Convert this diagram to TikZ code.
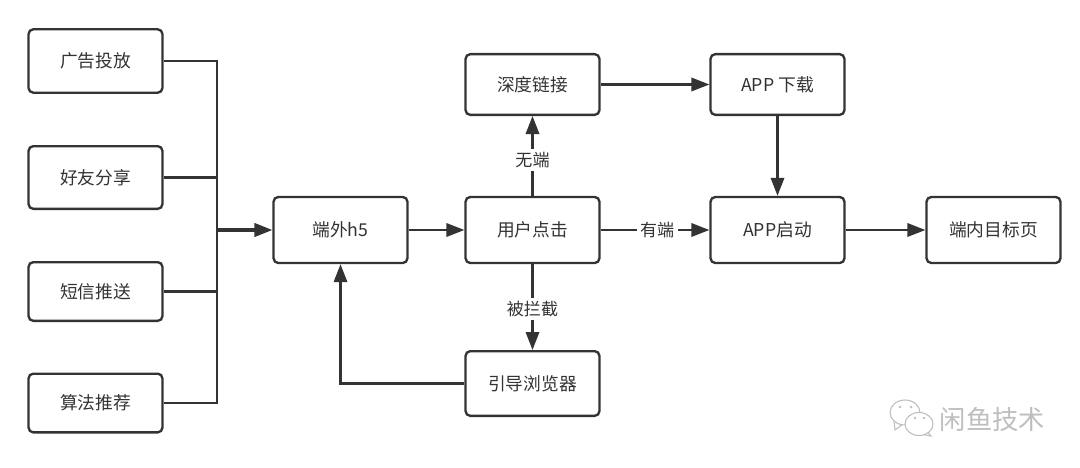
\documentclass[tikz,border=0pt]{standalone}
\usepackage{fontspec}
\setmainfont{Noto Sans CJK SC}
\usetikzlibrary{arrows.meta,calc}
\definecolor{ink}{HTML}{333333}
\definecolor{brandgray}{HTML}{BEBEBE}
\tikzset{
  x=0.75pt,y=-0.75pt,
  stepbox/.style={draw=ink,line width=1.75pt,rounded corners=3.5pt,fill=white,minimum width=100.4pt,anchor=center,inner sep=0pt,text=ink,font=\fontsize{13.3pt}{15pt}\selectfont},
  link/.style={draw=ink,line width=1.75pt,-{Triangle[length=13.5pt,width=10pt]}},
  feed/.style={draw=ink,line width=1.75pt},
  tag/.style={fill=white,inner sep=2.5pt,text=ink,font=\fontsize{12.8pt}{15pt}\selectfont},
  bubble/.style={draw=brandgray,line width=0.8pt,fill=white},
}
\begin{document}
\begin{tikzpicture}
\useasboundingbox (0,0) rectangle (1080,467);
% source channels
\node[stepbox,minimum height=47.5pt] (ad) at (95.5,61) {广告投放};
\node[stepbox,minimum height=47pt] (share) at (95.5,177.5) {好友分享};
\node[stepbox,minimum height=44pt] (sms) at (95.5,291.5) {短信推送};
\node[stepbox,minimum height=44pt] (algo) at (95.5,403) {算法推荐};
% main flow
\node[stepbox,minimum height=49.5pt] (h5) at (340.5,230) {端外h5};
\node[stepbox,minimum height=49.5pt] (click) at (532.5,230) {用户点击};
\node[stepbox,minimum height=45.5pt] (deep) at (532.5,84.5) {深度链接};
\node[stepbox,minimum height=45.5pt] (down) at (777.5,84.5) {APP 下载};
\node[stepbox,minimum height=49.5pt] (start) at (777.5,230) {APP启动};
\node[stepbox,minimum height=49.5pt] (target) at (993.5,230) {端内目标页};
\node[stepbox,minimum height=48.5pt] (guide) at (532.5,383.5) {引导浏览器};
% collector bus
\coordinate (bus) at (217,230);
\draw[feed] (ad.east) -| (bus);
\draw[feed] (share.east) -| (bus);
\draw[feed] (sms.east) -| (bus);
\draw[feed] (algo.east) -| (bus);
\draw[link,line width=2.3pt] (bus) -- (h5.west);
% connectors
\draw[link] (h5.east) -- (click.west);
\draw[link] (click.north) -- node[tag,pos=0.45] (none) {无端} (deep.south);
\draw[link] (click.east) -- node[tag,pos=0.52] (has) {有端} (start.west);
\draw[link] (click.south) -- node[tag,pos=0.52] (block) {被拦截} (guide.north);
\draw[link] (guide.west) -| (h5.south);
\draw[link] (deep.east) -- (down.west);
\draw[link] (down.south) -- (start.north);
\draw[link] (start.east) -- (target.west);
% brand logo
\draw[bubble] (894,421) -- (895,430) -- (903,424) -- cycle;
\draw[bubble] (905,412.5) ellipse (15 and 12.5);
\draw[bubble] (926,430) -- (931,436) -- (920,434) -- cycle;
\draw[bubble] (919,424) ellipse (14 and 11.5);
\fill[brandgray] (900,407) circle (1.3) (911,407) circle (1.3) (915,418) circle (1.3) (924,418) circle (1.3);
\node[inner sep=0pt,text=brandgray,font=\fontsize{19.7pt}{22pt}\selectfont] (brand) at (992.5,419) {闲鱼技术};
\end{tikzpicture}
\end{document}
